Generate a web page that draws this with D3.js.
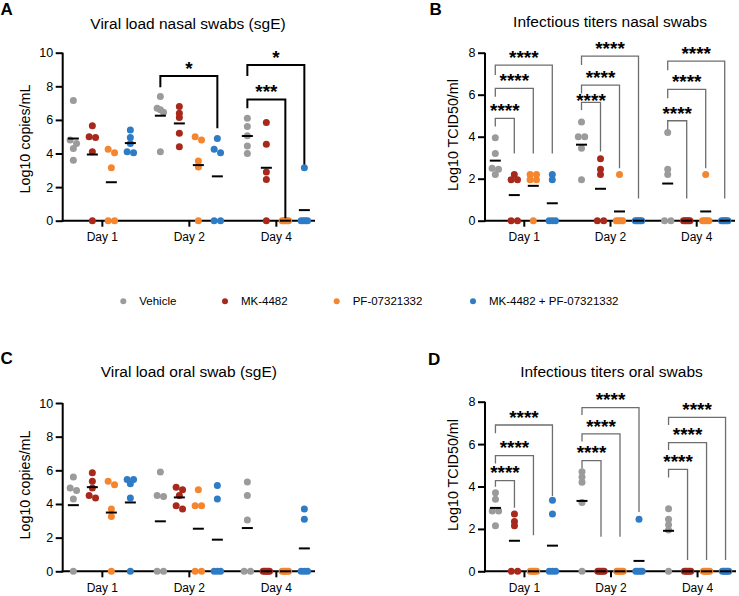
<!DOCTYPE html>
<html><head><meta charset="utf-8">
<script src="https://cdn.jsdelivr.net/npm/d3@7"></script>
<style>
body{margin:0;background:#fff}
svg{display:block}
text{font-family:"Liberation Sans",Arial,Helvetica,sans-serif;fill:#000}
</style>
</head><body>
<svg id="chart" width="739" height="596"></svg>
<script>
const days = ["Day 1", "Day 2", "Day 4"];
const groups = ["Vehicle", "MK-4482", "PF-07321332", "MK-4482 + PF-07321332"];
const colors = ["#9b9b9b", "#a8291c", "#f4862f", "#2e7bc6"];

// Panel A: viral load nasal swabs (sgE), log10 copies/mL — [Vehicle, MK, PF, MK+PF]
const nasalLoadDay1 = [[7.15,4.8,4.6,4.3,3.6],[5.65,5.0,4.95,4.1,0],[4.25,4.05,3.15,0,0],[5.4,4.95,4.6,4.1,4.05]];
const nasalLoadDay2 = [[7.4,6.7,6.6,6.45,4.1],[6.8,6.4,6.15,5.2,4.4],[5.0,4.8,3.55,3.2,0],[4.9,4.25,4.05,0,0]];
const nasalLoadDay4 = [[6.1,5.6,5.05,4.45,4.0],[5.85,4.55,2.9,2.45,0],[0,0,0,0,0],[3.15,0,0,0,0]];

// Panel B: infectious titers nasal swabs, log10 TCID50/ml
const nasalTiterDay1 = [[3.95,3.2,2.5,2.45,2.2],[2.2,1.95,1.95,0,0],[2.2,2.2,1.95,1.95,0],[2.2,1.95,0,0,0]];
const nasalTiterDay2 = [[4.7,4.0,4.0,3.45,1.95],[2.95,2.45,2.2,0,0],[2.2,0,0,0,0],[0,0,0,0,0]];
const nasalTiterDay4 = [[4.2,2.45,2.2,0,0],[0,0,0,0,0],[2.2,0,0,0,0],[0,0,0,0,0]];

// Panel C: viral load oral swab (sgE)
const oralLoadDay1 = [[5.6,4.95,4.8,4.3,0],[5.85,5.35,4.95,4.5,4.35],[5.35,5.15,3.7,3.25,0],[5.45,5.45,5.2,4.35,0]];
const oralLoadDay2 = [[5.9,4.5,4.45,0,0],[5.0,4.85,4.5,3.9,3.7],[4.85,3.9,3.9,0,0],[5.1,4.3,0,0,0]];
const oralLoadDay4 = [[5.3,4.5,3.05,0,0],[0,0,0,0,0],[0,0,0,0,0],[3.7,3.1,0,0,0]];

// Panel D: infectious titers oral swabs
const oralTiterDay1 = [[3.7,3.4,2.85,2.85,2.15],[2.7,2.35,2.15,0,0],[0,0,0,0,0],[3.35,2.7,0,0,0]];
const oralTiterDay2 = [[4.7,4.45,4.2,3.25,0],[0,0,0,0,0],[0,0,0,0,0],[2.45,0,0,0,0]];
const oralTiterDay4 = [[2.95,2.45,2.2,1.95,0],[0,0,0,0,0],[0,0,0,0,0],[0,0,0,0,0]];

// significance brackets: [day index, from group, to group, top, left leg end, right leg end, label, label gap]
const bracketsA = [[1,0,3,8.61,7.94,5.5,"*"],[2,0,3,9.27,8.61,3.35,"*"],[2,0,2,7.22,6.69,0.14,"***"]];
const bracketsB = [[0,0,1,4.87,4.48,3.2,"****"],[0,0,2,6.3,5.9,3.2,"****"],[0,0,3,7.41,6.94,3.2,"****"],
  [1,0,1,5.63,5.27,3.3,"****",-5],[1,0,2,6.46,6.06,2.5,"****"],[1,0,3,7.84,7.41,1.06,"****"],
  [2,0,1,4.76,4.35,1.06,"****"],[2,0,2,6.25,5.83,2.5,"****"],[2,0,3,7.6,7.17,1.06,"****"]];
const bracketsD = [[0,0,1,4.28,3.99,3.0,"****"],[0,0,2,5.46,5.09,1.7,"****"],[0,0,3,6.9,6.51,3.55,"****"],
  [1,0,1,5.22,4.86,1.63,"****"],[1,0,2,6.48,6.12,1.63,"****"],[1,0,3,7.72,7.37,2.8,"****"],
  [2,0,1,4.81,4.43,0.53,"****"],[2,0,2,6.07,5.72,0.53,"****"],[2,0,3,7.26,6.9,0.53,"****"]];

const svg = d3.select("#chart");

function layout(vals, y) {
  const pts = vals.map(v => ({v, py: y(v)})).sort((a, b) => a.py - b.py);
  const rows = []; let cur = [];
  pts.forEach(p => {
    if (cur.length && p.py - cur[cur.length - 1].py > 4) { rows.push(cur); cur = []; }
    cur.push(p);
  });
  if (cur.length) rows.push(cur);
  rows.forEach(r => {
    const n = r.length;
    const s = n > 1 ? Math.min(6.8, 6.4 / (n - 1)) : 0;
    r.forEach((p, i) => p.dx = (i - (n - 1) / 2) * s);
  });
  return pts;
}

function panel(cfg) {
  const g = svg.append("g");
  const x = d3.scalePoint().domain(days).range([cfg.x0, cfg.x1]).padding(0.45);
  const gx = d3.scalePoint().domain(d3.range(groups.length)).range([-28.5, 28.5]);
  const y = d3.scaleLinear().domain([0, cfg.ymax]).range([cfg.y0, cfg.y1]);

  // letter & title
  g.append("text").attr("x", cfg.lx).attr("y", cfg.ly).attr("font-size", 17).attr("font-weight", "bold").text(cfg.letter);
  g.append("text").attr("x", cfg.tx).attr("y", cfg.ty).attr("text-anchor", "middle").attr("font-size", 15.5).text(cfg.title);
  g.append("text").attr("transform", `translate(${cfg.ytx},${cfg.yty}) rotate(-90)`)
    .attr("text-anchor", "middle").attr("font-size", 14.3).text(cfg.ylabel);

  // axes
  const ya = g.append("g").attr("transform", `translate(${cfg.x0},0)`)
    .call(d3.axisLeft(y).tickValues(d3.range(0, cfg.ymax + 0.01, 2)).tickSize(7).tickSizeOuter(0).tickPadding(2.5));
  const xa = g.append("g").attr("transform", `translate(0,${cfg.y0})`)
    .call(d3.axisBottom(x).tickSize(6).tickSizeOuter(0).tickPadding(6));
  [ya, xa].forEach(a => {
    a.selectAll("path,line").attr("stroke", "#000").attr("stroke-width", 2);
    a.selectAll("text").attr("font-family", "Liberation Sans, Arial, sans-serif").attr("fill", "#000");
  });
  ya.selectAll("text").attr("font-size", 12.5);
  xa.selectAll("text").attr("font-size", 12);
  ya.select(".domain").attr("d", `M0,${cfg.y1}V${cfg.y0 + 1}`);
  xa.select(".domain").attr("d", `M${cfg.x0 - 1},0H${cfg.x1}`);

  // dots + means
  cfg.data.forEach((dayVals, di) => {
    dayVals.forEach((vals, gi) => {
      const cx = x(days[di]) + gx(gi);
      layout(vals, y).forEach(p => {
        g.append("circle").attr("cx", cx + p.dx).attr("cy", p.py).attr("r", 3.5).attr("fill", colors[gi]);
      });
    });
  });
  cfg.data.forEach((dayVals, di) => {
    dayVals.forEach((vals, gi) => {
      const cx = x(days[di]) + gx(gi);
      const m = d3.mean(vals);
      g.append("line").attr("x1", cx - 5.5).attr("x2", cx + 5.5).attr("y1", y(m)).attr("y2", y(m))
        .attr("stroke", "#000").attr("stroke-width", 2);
    });
  });

  // brackets
  cfg.brackets.forEach(b => {
    const xa1 = x(days[b[0]]) + gx(b[1]);
    const xb1 = x(days[b[0]]) + gx(b[2]);
    g.append("path")
      .attr("d", `M${xa1},${y(b[4])}V${y(b[3])}H${xb1}V${y(b[5])}`)
      .attr("fill", "none").attr("stroke", cfg.bcolor).attr("stroke-width", cfg.bwidth);
    const gap = b.length > 7 ? b[7] : 1.2;
    g.append("text").attr("x", (xa1 + xb1) / 2).attr("y", y(b[3]) - gap)
      .attr("text-anchor", "middle").attr("font-size", 19).attr("font-weight", "bold").text(b[6]);
  });
}

panel({letter: "A", lx: 0.5, ly: 15, title: "Viral load nasal swabs (sgE)", tx: 188, ty: 28.5,
  ylabel: "Log10 copies/mL", ytx: 30, yty: 139, x0: 62.7, x1: 315, y0: 220.7, y1: 52.7, ymax: 10,
  data: [nasalLoadDay1, nasalLoadDay2, nasalLoadDay4], brackets: bracketsA, bcolor: "#000", bwidth: 2});
panel({letter: "B", lx: 429.5, ly: 15, title: "Infectious titers nasal swabs", tx: 610, ty: 26.5,
  ylabel: "Log10 TCID50/ml", ytx: 458, yty: 135, x0: 485, x1: 735, y0: 220.7, y1: 52.7, ymax: 8,
  data: [nasalTiterDay1, nasalTiterDay2, nasalTiterDay4], brackets: bracketsB, bcolor: "#6e6e6e", bwidth: 1.3});
panel({letter: "C", lx: 0.5, ly: 363.5, title: "Viral load oral swab (sgE)", tx: 188.8, ty: 376.5,
  ylabel: "Log10 copies/mL", ytx: 30, yty: 485, x0: 62.7, x1: 315, y0: 571.3, y1: 403, ymax: 10,
  data: [oralLoadDay1, oralLoadDay2, oralLoadDay4], brackets: [], bcolor: "#000", bwidth: 2});
panel({letter: "D", lx: 428, ly: 365, title: "Infectious titers oral swabs", tx: 611.5, ty: 377,
  ylabel: "Log10 TCID50/ml", ytx: 458, yty: 475, x0: 485, x1: 736, y0: 571.3, y1: 401.7, ymax: 8,
  data: [oralTiterDay1, oralTiterDay2, oralTiterDay4], brackets: bracketsD, bcolor: "#6e6e6e", bwidth: 1.3});

// legend
const legendX = [123.3, 225, 336.7, 473];
const lg = svg.append("g");
groups.forEach((name, i) => {
  lg.append("circle").attr("cx", legendX[i]).attr("cy", 301.3).attr("r", 3).attr("fill", colors[i]);
  lg.append("text").attr("x", legendX[i] + 16).attr("y", 305.3).attr("font-size", 11.5).text(name);
});
</script>
</body></html>
